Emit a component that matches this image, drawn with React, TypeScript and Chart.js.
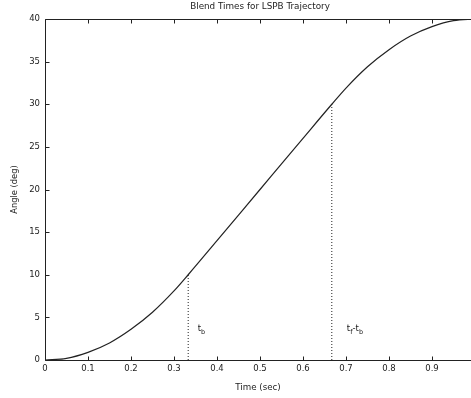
import { useEffect, useRef } from 'react';
import { Chart, registerables } from 'chart.js';
Chart.register(...registerables);

const timeSec = [0, 0.05, 0.1, 0.15, 0.2, 0.25, 0.3, 0.333, 0.4, 0.45, 0.5, 0.55, 0.6, 0.667, 0.7, 0.75, 0.8, 0.85, 0.9, 0.95, 1.0];
const angleDeg = [0, 0.2, 0.9, 2.0, 3.6, 5.6, 8.1, 10, 14, 17, 20, 23, 26, 30, 31.9, 34.4, 36.4, 38.0, 39.1, 39.8, 40];
const blendTimes = [0.333, 0.667];
const blendAngles = [10, 30];
const xTickValues = [0, 0.1, 0.2, 0.3, 0.4, 0.5, 0.6, 0.7, 0.8, 0.9];
const yTickValues = [0, 5, 10, 15, 20, 25, 30, 35, 40];
const chartTitle = 'Blend Times for LSPB Trajectory';
const xTitle = 'Time (sec)';
const yTitle = 'Angle (deg)';
// label pieces: [text, isSubscript]
const blendLabelPieces: [string, boolean][][] = [
  [['t', false], ['b', true]],
  [['t', false], ['f', true], ['-', false], ['t', false], ['b', true]],
];
const blendLabelAt = [
  { x: 0.355, y: 3.4 },
  { x: 0.702, y: 3.4 },
];

const FONT = '"DejaVu Sans", Verdana, sans-serif';
const INK = '#222';

const axesPlugin = {
  id: 'matlabAxes',
  afterDatasetsDraw(chart: any) {
    const { ctx, chartArea, scales } = chart;
    const xs = scales.x;
    const ys = scales.y;
    const L = Math.round(chartArea.left) + 0.5;
    const T = Math.round(chartArea.top) + 0.5;
    const B = Math.round(chartArea.bottom) + 0.5;
    const R = chartArea.right + 1;
    ctx.save();
    ctx.strokeStyle = INK;
    ctx.lineWidth = 1;
    ctx.beginPath();
    ctx.moveTo(R, T);
    ctx.lineTo(L, T);
    ctx.lineTo(L, B);
    ctx.lineTo(R, B);
    ctx.stroke();
    const tl = 4;
    ctx.beginPath();
    xTickValues.forEach((v) => {
      const px = Math.round(xs.getPixelForValue(v)) + 0.5;
      ctx.moveTo(px, T);
      ctx.lineTo(px, T + tl);
      ctx.moveTo(px, B);
      ctx.lineTo(px, B - tl);
    });
    yTickValues.forEach((v) => {
      const py = Math.round(ys.getPixelForValue(v)) + 0.5;
      ctx.moveTo(L, py);
      ctx.lineTo(L + tl, py);
    });
    ctx.stroke();

    // title centred over the full (clipped) axes box
    ctx.fillStyle = INK;
    ctx.font = '8.8px ' + FONT;
    ctx.textAlign = 'center';
    ctx.textBaseline = 'middle';
    const axesCenter = (xs.getPixelForValue(0) + xs.getPixelForValue(1)) / 2;
    ctx.fillText(chartTitle, axesCenter, 7);

    // blend labels
    ctx.textAlign = 'left';
    ctx.textBaseline = 'alphabetic';
    blendLabelPieces.forEach((pieces, i) => {
      let px = xs.getPixelForValue(blendLabelAt[i].x);
      const py = ys.getPixelForValue(blendLabelAt[i].y);
      pieces.forEach(([txt, sub]) => {
        ctx.font = (sub ? '6.5px ' : '8.5px ') + FONT;
        ctx.fillText(txt, px, sub ? py + 3 : py);
        px += ctx.measureText(txt).width;
      });
    });
    ctx.restore();
  },
};

export default function App() {
  const ref = useRef<HTMLCanvasElement | null>(null);
  useEffect(() => {
    if (!ref.current) return;
    const curve = timeSec.map((t, i) => ({ x: t, y: angleDeg[i] }));
    const dotted = blendTimes.map((t, i) => ({
      type: 'line',
      data: [{ x: t, y: 0 }, { x: t, y: blendAngles[i] }],
      borderColor: INK,
      borderWidth: 1,
      borderDash: [1, 2],
      pointRadius: 0,
      fill: false,
    }));
    const chart = new Chart(ref.current, {
      type: 'line',
      data: {
        datasets: [
          {
            data: curve,
            borderColor: INK,
            borderWidth: 1.2,
            pointRadius: 0,
            fill: false,
            cubicInterpolationMode: 'monotone',
          } as any,
          ...(dotted as any[]),
        ],
      },
      plugins: [axesPlugin],
      options: {
        animation: false,
        responsive: false,
        maintainAspectRatio: false,
        layout: { padding: { left: 0, right: 0, top: 19, bottom: 0 } },
        plugins: {
          legend: { display: false },
          tooltip: { enabled: false },
          title: { display: false },
        },
        scales: {
          x: {
            type: 'linear',
            min: 0,
            max: 0.9907,
            grid: { display: false, drawTicks: false },
            border: { display: false },
            afterBuildTicks: (scale: any) => {
              scale.ticks = xTickValues.map((v) => ({ value: v }));
            },
            afterFit: (scale: any) => {
              scale.height = 38;
            },
            ticks: {
              color: INK,
              font: { family: FONT, size: 8.5 },
              padding: 4,
              maxRotation: 0,
              autoSkip: false,
              callback: (v: any) => String(Math.round(Number(v) * 10) / 10),
            },
            title: {
              display: true,
              text: xTitle,
              color: INK,
              font: { family: FONT, size: 8.7 },
              padding: { top: 0, bottom: 5 },
            },
          },
          y: {
            type: 'linear',
            min: 0,
            max: 40,
            grid: { display: false, drawTicks: false },
            border: { display: false },
            afterBuildTicks: (scale: any) => {
              scale.ticks = yTickValues.map((v) => ({ value: v }));
            },
            afterFit: (scale: any) => {
              scale.width = 45;
            },
            ticks: {
              color: INK,
              font: { family: FONT, size: 8.5 },
              padding: 5,
              autoSkip: false,
            },
            title: {
              display: true,
              text: yTitle,
              color: INK,
              font: { family: FONT, size: 8.3 },
              padding: { top: 10, bottom: 0 },
            },
          },
        },
      } as any,
    });
    return () => chart.destroy();
  }, []);
  return (
    <div style={{ position: 'fixed', left: 0, top: 0, width: 471, height: 398, background: '#fff' }}>
      <canvas ref={ref} width={471} height={398} style={{ width: 471, height: 398, display: 'block' }} />
    </div>
  );
}
